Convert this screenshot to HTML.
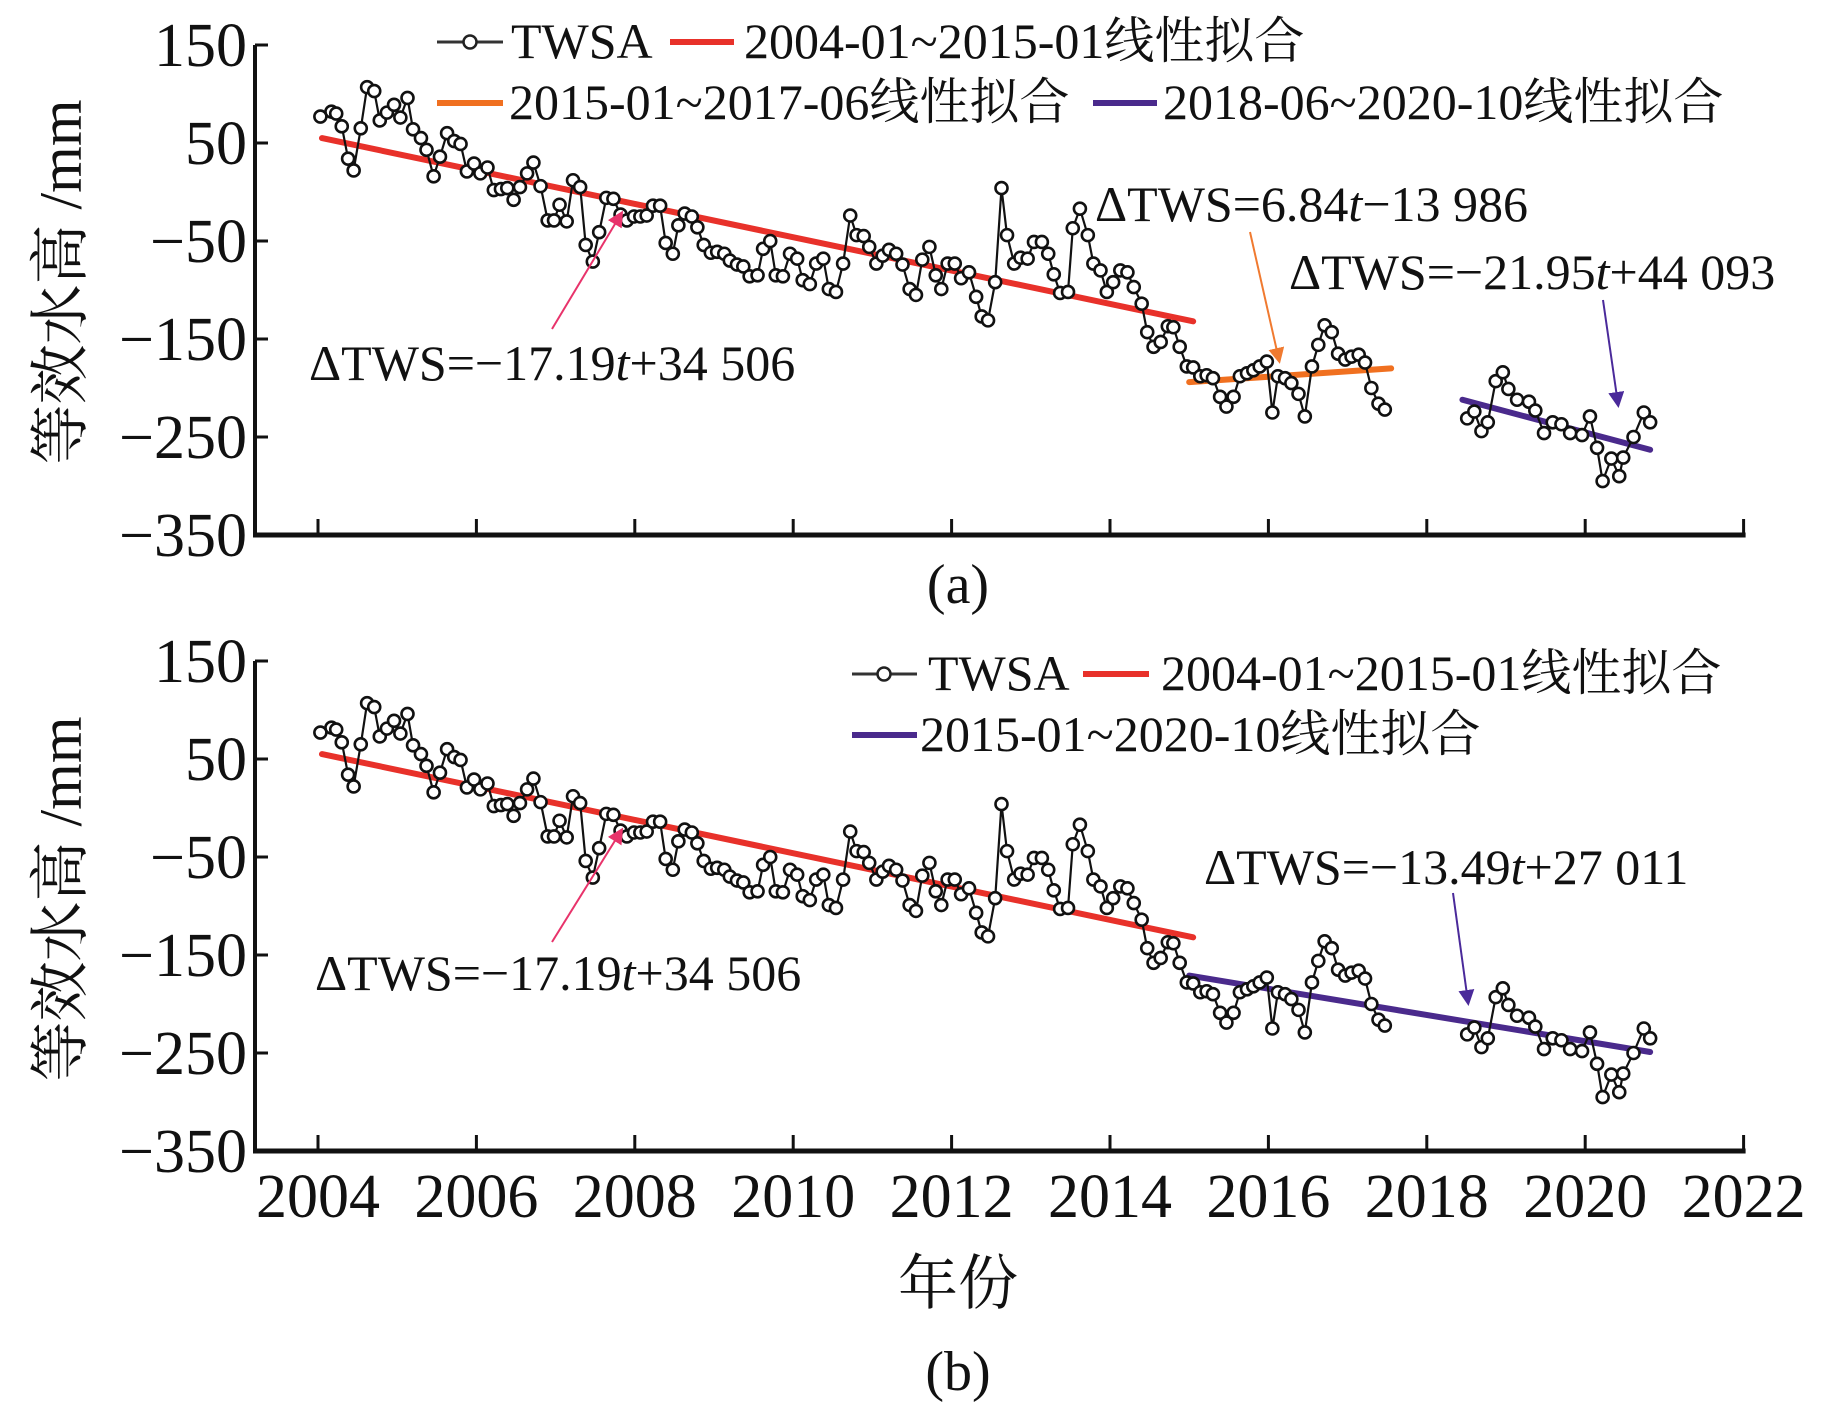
<!DOCTYPE html>
<html><head><meta charset="utf-8">
<style>
html,body{margin:0;padding:0;background:#fff;}
svg{display:block;}
text{font-family:"Liberation Serif","Noto Serif CJK SC","Noto Sans CJK SC",serif;fill:#111;}
</style></head>
<body>
<svg id="fig" width="1843" height="1411" viewBox="0 0 1843 1411" xmlns="http://www.w3.org/2000/svg">
<defs>
<marker id="arrR" markerWidth="8" markerHeight="8" refX="6" refY="4" orient="auto"><path d="M0,0 L8,4 L0,8 z" fill="#e8336b"/></marker>
<marker id="arrO" markerWidth="8" markerHeight="8" refX="6" refY="4" orient="auto"><path d="M0,0 L8,4 L0,8 z" fill="#f07a30"/></marker>
<marker id="arrP" markerWidth="8" markerHeight="8" refX="6" refY="4" orient="auto"><path d="M0,0 L8,4 L0,8 z" fill="#4a2a9a"/></marker>
</defs>
<g id="chartA"></g>
<g id="chartB"></g>

<g>
  <g>
    <line x1="437" y1="42" x2="503" y2="42" stroke="#333" stroke-width="3"/>
    <circle cx="470" cy="42" r="6.5" fill="#fff" stroke="#222" stroke-width="2.5"/>
    <text x="511" y="58" font-size="50">TWSA</text>
  </g>
  <g>
    <line x1="670" y1="42" x2="734" y2="42" stroke="#e8312a" stroke-width="6"/>
    <text x="744" y="58" font-size="50">2004-01~2015-01线性拟合</text>
  </g>
  <g>
    <line x1="437" y1="103" x2="503" y2="103" stroke="#f07020" stroke-width="6"/>
    <text x="509" y="119" font-size="50">2015-01~2017-06线性拟合</text>
  </g>
  <g>
    <line x1="1093" y1="103" x2="1157" y2="103" stroke="#4a2a8c" stroke-width="6"/>
    <text x="1163" y="119" font-size="50">2018-06~2020-10线性拟合</text>
  </g>
</g>
<g>
  <g>
    <line x1="852" y1="674" x2="917" y2="674" stroke="#333" stroke-width="3"/>
    <circle cx="884" cy="674" r="6.5" fill="#fff" stroke="#222" stroke-width="2.5"/>
    <text x="928" y="690" font-size="50">TWSA</text>
  </g>
  <g>
    <line x1="1083" y1="674" x2="1149" y2="674" stroke="#e8312a" stroke-width="6"/>
    <text x="1161" y="690" font-size="50">2004-01~2015-01线性拟合</text>
  </g>
  <g>
    <line x1="852" y1="735" x2="917" y2="735" stroke="#4a2a8c" stroke-width="6"/>
    <text x="920" y="751" font-size="50">2015-01~2020-10线性拟合</text>
  </g>
</g>

<g>
  <text x="309" y="380" font-size="50">ΔTWS=−17.19<tspan font-style="italic">t</tspan>+34 506</text>
  <line x1="552" y1="329" x2="621" y2="214" stroke="#e8336b" stroke-width="2" marker-end="url(#arrR)"/>
</g>
<g>
  <text x="1095" y="221" font-size="50">ΔTWS=6.84<tspan font-style="italic">t</tspan>−13 986</text>
  <line x1="1250" y1="232" x2="1279" y2="360" stroke="#f07a30" stroke-width="2" marker-end="url(#arrO)"/>
</g>
<g>
  <text x="1289" y="289" font-size="50">ΔTWS=−21.95<tspan font-style="italic">t</tspan>+44 093</text>
  <line x1="1603" y1="300" x2="1618" y2="404" stroke="#4a2a9a" stroke-width="2" marker-end="url(#arrP)"/>
</g>
<g>
  <text x="315" y="990" font-size="50">ΔTWS=−17.19<tspan font-style="italic">t</tspan>+34 506</text>
  <line x1="552" y1="942" x2="621" y2="831" stroke="#e8336b" stroke-width="2" marker-end="url(#arrR)"/>
</g>
<g>
  <text x="1204" y="884" font-size="50">ΔTWS=−13.49<tspan font-style="italic">t</tspan>+27 011</text>
  <line x1="1453" y1="893" x2="1468" y2="1002" stroke="#4a2a9a" stroke-width="2" marker-end="url(#arrP)"/>
</g>

<text x="61" y="282" font-size="60" text-anchor="middle" dominant-baseline="central" transform="rotate(-90 61 282)">等效水高 /mm</text>
<text x="61" y="899" font-size="60" text-anchor="middle" dominant-baseline="central" transform="rotate(-90 61 899)">等效水高 /mm</text>
<text x="958" y="603" font-size="56" text-anchor="middle">(a)</text>
<text x="958" y="1304" font-size="60" text-anchor="middle">年份</text>
<text x="958" y="1390" font-size="56" text-anchor="middle">(b)</text>
</svg>
<script>
const years = [2004.03,2004.17,2004.23,2004.30,2004.38,2004.45,2004.54,2004.62,2004.71,2004.78,2004.87,2004.96,2005.04,2005.13,2005.20,2005.30,2005.37,2005.46,2005.54,2005.63,2005.72,2005.80,2005.88,2005.97,2006.05,2006.14,2006.22,2006.31,2006.39,2006.47,2006.55,2006.64,2006.72,2006.81,2006.90,2006.98,2007.05,2007.14,2007.22,2007.31,2007.38,2007.47,2007.55,2007.64,2007.73,2007.82,2007.90,2007.99,2008.07,2008.15,2008.23,2008.32,2008.39,2008.48,2008.55,2008.63,2008.72,2008.79,2008.87,2008.96,2009.04,2009.13,2009.20,2009.29,2009.37,2009.45,2009.55,2009.62,2009.71,2009.78,2009.87,2009.96,2010.05,2010.12,2010.21,2010.29,2010.38,2010.45,2010.54,2010.63,2010.72,2010.80,2010.89,2010.96,2011.05,2011.13,2011.21,2011.30,2011.38,2011.47,2011.55,2011.63,2011.72,2011.80,2011.87,2011.95,2012.04,2012.12,2012.22,2012.31,2012.38,2012.46,2012.55,2012.63,2012.70,2012.79,2012.87,2012.96,2013.04,2013.14,2013.22,2013.29,2013.37,2013.47,2013.53,2013.62,2013.72,2013.79,2013.88,2013.96,2014.04,2014.13,2014.22,2014.30,2014.40,2014.47,2014.55,2014.64,2014.73,2014.80,2014.88,2014.97,2015.05,2015.14,2015.22,2015.30,2015.39,2015.47,2015.56,2015.64,2015.73,2015.81,2015.89,2015.98,2016.05,2016.12,2016.21,2016.29,2016.38,2016.46,2016.55,2016.63,2016.71,2016.80,2016.88,2016.97,2017.05,2017.14,2017.22,2017.30,2017.39,2017.47,
2018.51,2018.60,2018.69,2018.77,2018.87,2018.96,2019.03,2019.14,2019.29,2019.37,2019.48,2019.59,2019.70,2019.81,2019.96,2020.06,2020.15,2020.22,2020.33,2020.43,2020.48,2020.61,2020.74,2020.82];
const twsa = [77,82,80,67,34,22,65,107,103,73,81,89,76,96,64,55,43,16,36,60,52,49,21,29,19,25,2,3,4,-8,5,19,30,6,-29,-29,-13,-30,12,5,-54,-71,-41,-6,-7,-23,-29,-25,-25,-24,-14,-14,-52,-63,-34,-22,-25,-36,-54,-62,-61,-63,-70,-74,-76,-86,-85,-58,-50,-85,-86,-63,-68,-90,-94,-73,-68,-99,-102,-73,-24,-44,-45,-56,-73,-65,-59,-63,-74,-99,-105,-69,-56,-85,-99,-73,-73,-88,-82,-107,-127,-131,-92,4,-44,-73,-67,-68,-51,-51,-63,-84,-103,-102,-37,-17,-44,-73,-80,-102,-92,-80,-82,-97,-114,-143,-158,-153,-137,-138,-158,-178,-179,-188,-187,-190,-209,-219,-209,-188,-185,-182,-178,-173,-225,-188,-190,-195,-206,-229,-178,-156,-136,-143,-165,-171,-168,-166,-174,-200,-216,-222,
-231,-224,-244,-235,-193,-184,-201,-212,-214,-223,-246,-235,-237,-246,-248,-229,-261,-295,-272,-290,-271,-250,-225,-235];
const yTicks = [150,50,-50,-150,-250,-350];
const xTicks = [2004,2006,2008,2010,2012,2014,2016,2018,2020,2022];
const fitAStart = [2004.05, 2015.0, 2018.45];
const fitAEnd   = [2015.05, 2017.55, 2020.82];
const fitAStartVal = [55, -194, -212];
const fitAEndVal   = [-132, -180, -263];
const fitAColor = ['#e8312a','#f07020','#4a2a8c'];
const fitBStart = [2004.05, 2015.0];
const fitBEnd   = [2015.05, 2020.82];
const fitBStartVal = [55, -171];
const fitBEndVal   = [-132, -249];
const fitBColor = ['#e8312a','#4a2a8c'];

const NS='http://www.w3.org/2000/svg';
function mk(tag, attrs, parent){const e=document.createElementNS(NS,tag);for(const k in attrs)e.setAttribute(k,attrs[k]);parent.appendChild(e);return e;}
const xS = t => 318 + (t-2004)*79.2;

function drawChart(g, top, showXLabels, fS, fE, fSV, fEV, fC, tag){
  const yS = v => top + (150-v)*0.98;
  const bottom = yS(-350);
  const ya = mk('line',{x1:255,y1:top,x2:255,y2:bottom+2,stroke:'#111','stroke-width':4},g);
  
  
  const xa = mk('line',{x1:253,y1:bottom,x2:xS(2022)+2,y2:bottom,stroke:'#111','stroke-width':5},g);
  
  
  yTicks.forEach(v=>{
    mk('line',{x1:255,y1:yS(v),x2:268,y2:yS(v),stroke:'#111','stroke-width':3},g);
    const t = mk('text',{x:247,y:yS(v)+21,'font-size':62,'text-anchor':'end'},g);
    t.textContent = v<0 ? '−'+Math.abs(v) : String(v);
    
    
  });
  xTicks.forEach(yr=>{
    mk('line',{x1:xS(yr),y1:bottom,x2:xS(yr),y2:bottom-16,stroke:'#111','stroke-width':3},g);
    if(showXLabels){
      const t = mk('text',{x:xS(yr),y:bottom+66,'font-size':62,'text-anchor':'middle'},g);
      t.textContent = String(yr);
      
      
    }
  });
  fS.forEach((s,i)=>{
    const l = mk('line',{x1:xS(s),y1:yS(fSV[i]),x2:xS(fE[i]),y2:yS(fEV[i]),stroke:fC[i],'stroke-width':6,'stroke-linecap':'round'},g);
    
    
  });
  let segs=[[]];
  years.forEach((yr,i)=>{
    if(i>0 && yr-years[i-1]>0.5) segs.push([]);
    segs[segs.length-1].push(xS(yr).toFixed(1)+','+yS(twsa[i]).toFixed(1));
  });
  segs.forEach(s=>{
    const p = mk('polyline',{points:s.join(' '),fill:'none',stroke:'#111','stroke-width':2.2},g);
    
    
  });
  years.forEach((yr,i)=>{
    const c = mk('circle',{cx:xS(yr),cy:yS(twsa[i]),r:6,fill:'#fff',stroke:'#111','stroke-width':2.6},g);
    
    
  });
}
drawChart(document.getElementById('chartA'), 45, false, fitAStart, fitAEnd, fitAStartVal, fitAEndVal, fitAColor, 'a');
drawChart(document.getElementById('chartB'), 661, true, fitBStart, fitBEnd, fitBStartVal, fitBEndVal, fitBColor, 'b');
</script>
</body></html>
